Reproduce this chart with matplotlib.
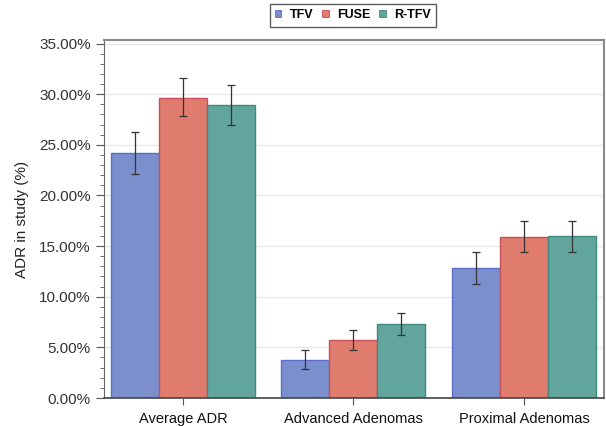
import numpy as np
import matplotlib
matplotlib.use("Agg")
import matplotlib.pyplot as plt
from matplotlib.ticker import MultipleLocator, FuncFormatter
from matplotlib.patches import Patch

plt.rcParams['font.family'] = ['Liberation Sans', 'DejaVu Sans']

categories = ['Average ADR', 'Advanced Adenomas', 'Proximal Adenomas']
series = ['TFV', 'FUSE', 'R-TFV']
# values in percent
tfv = [24.2, 3.75, 12.8]
fuse = [29.65, 5.75, 15.9]
rtfv = [28.95, 7.3, 16.0]
tfv_lo = [22.1, 2.85, 11.25]
tfv_hi = [26.3, 4.7, 14.4]
fuse_lo = [27.8, 4.75, 14.4]
fuse_hi = [31.6, 6.7, 17.5]
rtfv_lo = [27.0, 6.2, 14.4]
rtfv_hi = [30.9, 8.4, 17.5]

fills = ['#7b8fcd', '#e07c6d', '#62a59c']
edges = ['#5a6ccc', '#c8505a', '#3f8a7f']

fig = plt.figure(figsize=(6.06, 4.26), dpi=100)
ax = fig.add_axes([104/606, 1 - 398/426, 500/606, 358/426])

x = np.arange(len(categories))
w = 0.2815
vals = [tfv, fuse, rtfv]
los = [tfv_lo, fuse_lo, rtfv_lo]
his = [tfv_hi, fuse_hi, rtfv_hi]
for i in range(3):
    v = np.array(vals[i])
    err = [v - np.array(los[i]), np.array(his[i]) - v]
    ax.bar(x + (i - 1) * w, v, w, color=fills[i], edgecolor=edges[i],
           linewidth=1.0, zorder=2)
    ax.errorbar(x + (i - 1) * w, v, yerr=err, fmt='none', ecolor='#333333',
                elinewidth=0.9, capsize=3, capthick=0.9, zorder=3)

ax.set_xlim(-0.463, 2.469)
ax.set_ylim(0, 35.35)
ax.yaxis.set_major_locator(MultipleLocator(5))
ax.yaxis.set_minor_locator(MultipleLocator(1))
ax.yaxis.set_major_formatter(FuncFormatter(lambda v, p: '%.2f%%' % v))
ax.set_xticks(x)
ax.set_xticklabels(categories, fontsize=10.5)
ax.tick_params(axis='y', labelsize=11, colors='#333333')
ax.tick_params(axis='y', which='major', length=6, color='#555555')
ax.tick_params(axis='y', which='minor', length=3, color='#555555')
ax.tick_params(axis='x', length=5, color='#555555', labelcolor='#111111', pad=5)
ax.set_ylabel('ADR in study (%)', fontsize=11, color='#222222', labelpad=7)

ax.grid(axis='y', color='#e8e8e8', linewidth=1, zorder=0)
ax.set_axisbelow(True)
for s in ['top', 'right']:
    ax.spines[s].set_color('#8a8a8a')
    ax.spines[s].set_linewidth(1.5)
ax.spines['left'].set_color('#666666')
ax.spines['bottom'].set_color('#444444')
ax.spines['bottom'].set_linewidth(1.2)

handles = [Patch(facecolor=fills[i], edgecolor=edges[i], linewidth=0.6, label=series[i])
           for i in range(3)]
leg = fig.legend(handles=handles, loc='upper center', bbox_to_anchor=(353/606, 1 - 4/426),
                 ncol=3, frameon=True, fancybox=False, handlelength=0.5, handleheight=0.5,
                 handletextpad=0.7, columnspacing=0.7, borderpad=0.42, borderaxespad=0,
                 prop={'weight': 'bold', 'size': 9})
leg.get_frame().set_edgecolor('#333333')
leg.get_frame().set_linewidth(1.0)

fig.savefig('out.png', dpi=100)
